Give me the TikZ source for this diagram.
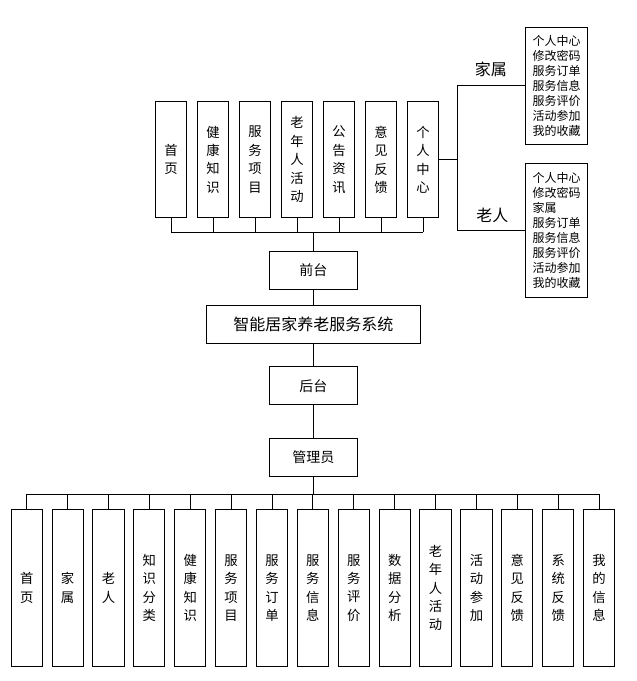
\documentclass[tikz,border=0pt]{standalone}
\usepackage{fontspec}
\setmainfont{Noto Sans CJK SC}
\begin{document}
\begin{tikzpicture}[x=0.75pt,y=-0.75pt,
  line width=0.75pt,
  vbox/.style={draw, inner sep=0pt, align=center, minimum width=23.4pt,
    font=\fontsize{10}{13.8}\selectfont},
  tbox/.style={vbox, minimum height=87pt},
  bbox/.style={vbox, minimum height=118pt},
  mbox/.style={draw, inner sep=0pt, minimum width=66pt, minimum height=28.8pt,
    font=\fontsize{10.5}{12}\selectfont},
  sbox/.style={draw, inner sep=0pt, minimum width=160.5pt, minimum height=29.2pt,
    font=\fontsize{12}{14}\selectfont},
  lbox/.style={draw, inner sep=0pt, align=left, minimum width=46.2pt,
    font=\fontsize{9}{11.25}\selectfont},
  lab/.style={inner sep=0pt, font=\fontsize{12}{14}\selectfont}
]
\useasboundingbox (0,0) rectangle (636,681);

% top boxes
\node[tbox] (t1) at (171,159.7) {首\\页};
\node[tbox] (t2) at (213,159.7) {健\\康\\知\\识};
\node[tbox] (t3) at (255,159.7) {服\\务\\项\\目};
\node[tbox] (t4) at (297,159.7) {老\\年\\人\\活\\动};
\node[tbox] (t5) at (339,159.7) {公\\告\\资\\讯};
\node[tbox] (t6) at (381,159.7) {意\\见\\反\\馈};
\node[tbox] (t7) at (423,159.7) {个\\人\\中\\心};

% middle
\node[mbox] (qt) at (313.3,270.2) {前台};
\node[sbox] (sys) at (313.3,324.5) {智能居家养老服务系统};
\node[mbox] (ht) at (313.3,385.7) {后台};
\node[mbox] (gly) at (313.3,457.2) {管理员};

% right
\node[lbox, minimum height=87.5pt] (jia) at (556.5,85.7) {个人中心\\修改密码\\服务订单\\服务信息\\服务评价\\活动参加\\我的收藏};
\node[lbox, minimum height=100.2pt] (lao) at (556.5,230.5) {个人中心\\修改密码\\家属\\服务订单\\服务信息\\服务评价\\活动参加\\我的收藏};
\node[lab] (ljia) at (490.8,69.3) {家属};
\node[lab] (llao) at (492.3,215) {老人};

% bottom boxes
\node[bbox] (b1) at (26.75,588) {首\\页};
\node[bbox] (b2) at (67.63,588) {家\\属};
\node[bbox] (b3) at (108.51,588) {老\\人};
\node[bbox] (b4) at (149.39,588) {知\\识\\分\\类};
\node[bbox] (b5) at (190.27,588) {健\\康\\知\\识};
\node[bbox] (b6) at (231.15,588) {服\\务\\项\\目};
\node[bbox] (b7) at (272.03,588) {服\\务\\订\\单};
\node[bbox] (b8) at (312.91,588) {服\\务\\信\\息};
\node[bbox] (b9) at (353.79,588) {服\\务\\评\\价};
\node[bbox] (b10) at (394.67,588) {数\\据\\分\\析};
\node[bbox] (b11) at (435.55,588) {老\\年\\人\\活\\动};
\node[bbox] (b12) at (476.43,588) {活\\动\\参\\加};
\node[bbox] (b13) at (517.31,588) {意\\见\\反\\馈};
\node[bbox] (b14) at (558.19,588) {系\\统\\反\\馈};
\node[bbox] (b15) at (599.07,588) {我\\的\\信\\息};

% connectors
\coordinate (tbus) at (313.3,232.3);
\coordinate (bbus) at (313.3,494.3);
\coordinate (br) at (457.3,159.3);

\draw (t1.south |- tbus) -- (t7.south |- tbus);
\foreach \i in {1,...,7} { \draw (t\i.south) -- (t\i.south |- tbus); }
\draw (qt.north) -- (qt.north |- tbus);
\draw (qt.south) -- (sys.north);
\draw (sys.south) -- (ht.north);
\draw (ht.south) -- (gly.north);
\draw (gly.south) -- (gly.south |- bbus);
\draw (b1.north |- bbus) -- (b15.north |- bbus);
\foreach \i in {1,...,15} { \draw (b\i.north) -- (b\i.north |- bbus); }

\draw (t7.east) -- (t7.east -| br);
\draw (jia.west) -| (br) |- (lao.west);
\end{tikzpicture}
\end{document}
